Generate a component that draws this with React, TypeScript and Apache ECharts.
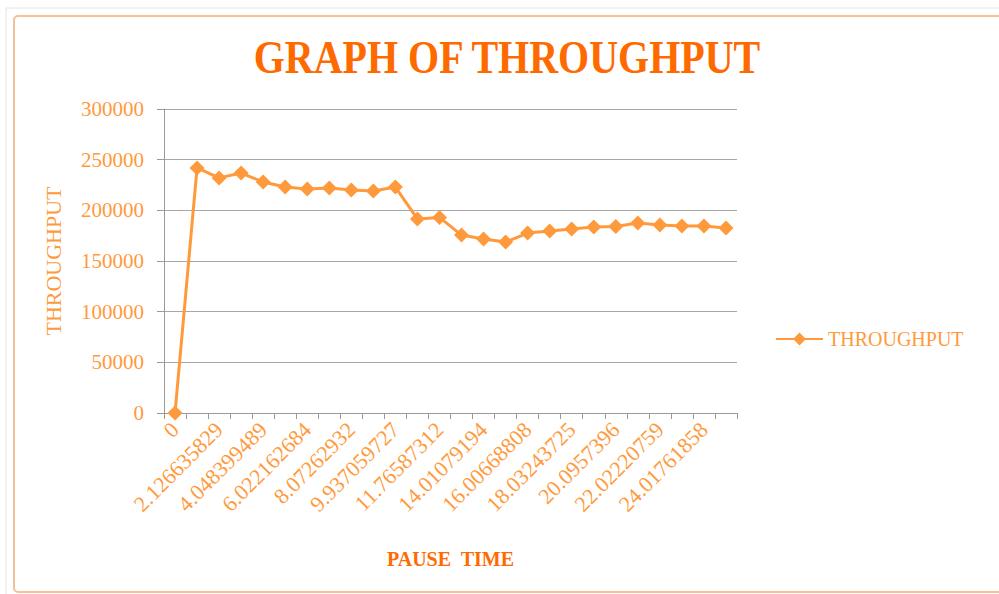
import React, { useEffect, useRef } from "react";
import * as echarts from "echarts";

const categories: string[] = [
  "0", "", "2.126635829", "", "4.048399489", "", "6.022162684", "", "8.07262932", "",
  "9.937059727", "", "11.76587312", "", "14.01079194", "", "16.00668808", "", "18.03243725", "",
  "20.0957396", "", "22.02220759", "", "24.01761858", "",
];

const throughput: number[] = [
  0, 241800, 232000, 236800, 228000, 223000, 221000, 222000, 220000, 219000,
  223000, 191500, 193000, 175600, 171700, 168700, 177600, 179600, 181600, 183500,
  184000, 187500, 185500, 184500, 184500, 182500,
];

const yTicks = { min: 0, max: 300000, interval: 50000 };

const seriesName = "THROUGHPUT";
const titleText = "GRAPH OF THROUGHPUT";
const xName = "PAUSE  TIME";
const yName = "THROUGHPUT";

export default function App() {
  const ref = useRef<HTMLDivElement>(null);
  useEffect(() => {
    document.body.style.margin = "0";
    if (!ref.current) return;
    const chart = echarts.init(ref.current, undefined, { renderer: "svg" });
    const lineColor = "#FF9A3C";
    const textColor = "#FF9A3C";
    const serif = "'Liberation Serif', 'DejaVu Serif', serif";
    chart.setOption({
      animation: false,
      backgroundColor: "#ffffff",
      graphic: [
        {
          type: "rect",
          shape: { x: 6, y: 8, width: 1000, height: 590 },
          style: { fill: "none", stroke: "#e4e4e4", lineWidth: 1 },
          silent: true,
        },
        {
          type: "rect",
          shape: { x: 14, y: 16, width: 990, height: 576, r: 4 },
          style: { fill: "none", stroke: "#F6C19A", lineWidth: 2 },
          silent: true,
        },
        {
          type: "text",
          x: 507,
          y: 58,
          scaleY: 1.15,
          style: {
            text: titleText,
            fill: "#FF6A00",
            font: `bold 40px ${serif}`,
            align: "center",
            verticalAlign: "middle",
          },
        },
      ],
      legend: {
        data: [seriesName],
        left: 770,
        top: 324,
        orient: "vertical",
        itemWidth: 47,
        itemHeight: 16,
        itemGap: 4,
        textStyle: {
          color: textColor,
          fontFamily: serif,
          fontSize: 20,
        },
      },
      grid: { left: 164, right: 262, top: 109, bottom: 181, containLabel: false },
      xAxis: {
        type: "category",
        data: categories,
        boundaryGap: true,
        name: xName,
        nameLocation: "middle",
        nameGap: 136,
        nameTextStyle: {
          color: "#FF6A00",
          fontFamily: serif,
          fontWeight: "bold",
          fontSize: 20,
        },
        axisLine: { show: true, lineStyle: { color: "#9a9a9a", width: 1 } },
        axisTick: { show: true, alignWithLabel: false, interval: 0, length: 6, lineStyle: { color: "#9a9a9a" } },
        axisLabel: {
          interval: 1,
          rotate: 45,
          color: textColor,
          fontFamily: serif,
          fontSize: 22,
          margin: 13,
        },
        splitLine: { show: false },
      },
      yAxis: {
        type: "value",
        min: yTicks.min,
        max: yTicks.max,
        interval: yTicks.interval,
        name: yName,
        nameLocation: "middle",
        nameGap: 100,
        nameRotate: 90,
        nameTextStyle: {
          color: textColor,
          fontFamily: serif,
          fontSize: 22,
        },
        axisLine: { show: true, lineStyle: { color: "#9a9a9a", width: 1 } },
        axisTick: { show: true, inside: false, length: 7, lineStyle: { color: "#9a9a9a" } },
        axisLabel: {
          color: textColor,
          fontFamily: serif,
          fontSize: 21,
          margin: 20,
          formatter: (v: number) => String(v),
        },
        splitLine: { show: true, lineStyle: { color: "#a8a8a8", width: 1 } },
      },
      series: [
        {
          name: seriesName,
          type: "line",
          data: throughput,
          symbol: "diamond",
          symbolSize: 15,
          showAllSymbol: true,
          lineStyle: { color: lineColor, width: 3 },
          itemStyle: { color: lineColor },
        },
      ],
    });
    return () => chart.dispose();
  }, []);
  return <div ref={ref} style={{ width: 999, height: 594 }} />;
}
